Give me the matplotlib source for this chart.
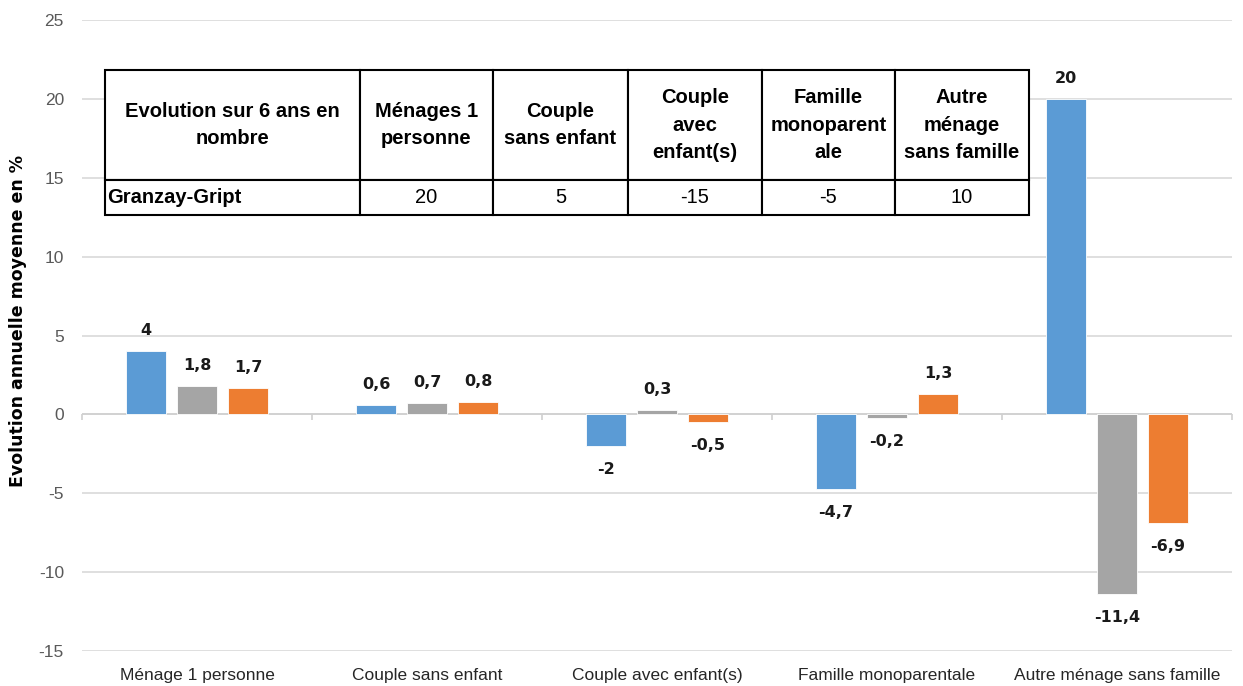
import numpy as np
import matplotlib
matplotlib.use("Agg")
import matplotlib.pyplot as plt

plt.rcParams['font.family'] = ['Liberation Sans', 'DejaVu Sans']

categories = ["Ménage 1 personne", "Couple sans enfant", "Couple avec enfant(s)",
              "Famille monoparentale", "Autre ménage sans famille"]
serie_bleue = [4, 0.6, -2, -4.7, 20]
serie_grise = [1.8, 0.7, 0.3, -0.2, -11.4]
serie_orange = [1.7, 0.8, -0.5, 1.3, -6.9]

table_header = ["Evolution sur 6 ans en\nnombre", "Ménages 1\npersonne", "Couple\nsans enfant",
                "Couple\navec\nenfant(s)", "Famille\nmonoparent\nale", "Autre\nménage\nsans famille"]
table_row = ["Granzay-Gript", "20", "5", "-15", "-5", "10"]

colors = ["#5B9BD5", "#A5A5A5", "#ED7D31"]
y_ticks = [-15, -10, -5, 0, 5, 10, 15, 20, 25]

fig = plt.figure(figsize=(12.43, 6.86), dpi=100)
ax = fig.add_axes([82 / 1243, 1 - 651 / 686, 1150 / 1243, 631 / 686])

x = np.arange(len(categories))
w = 0.174
step = 0.222
for i, (vals, c) in enumerate(zip([serie_bleue, serie_grise, serie_orange], colors)):
    pos = x + (i - 1) * step
    ax.bar(pos, vals, width=w, color=c, edgecolor="white", linewidth=0.6, zorder=3)
    for xp, v in zip(pos, vals):
        lab = f"{v:g}".replace(".", ",")
        off = 1.3 if v >= 0 else -1.5
        ax.text(xp, v + off, lab, ha="center", va="center", fontsize=11.5,
                fontweight="bold", family="DejaVu Sans", color="#1a1a1a", zorder=4)

ax.set_xlim(-0.5, len(categories) - 0.5)
ax.set_ylim(-15, 25)
ax.set_yticks(y_ticks)
ax.set_yticklabels([str(t) for t in y_ticks], fontsize=12.5, color="#595959")
ax.set_xticks(x)
ax.set_xticklabels(categories, fontsize=12.5, color="#262626")
ax.tick_params(axis="both", length=0)
ax.tick_params(axis="x", pad=12)
ax.tick_params(axis="y", pad=13)
ax.grid(axis="y", color="#D9D9D9", linewidth=1.2, zorder=0)
for s in ax.spines.values():
    s.set_visible(False)

# ligne du zéro avec petits traits entre catégories
ax.axhline(0, color="#D0D0D0", linewidth=1.2, zorder=2)
ax.vlines(np.arange(len(categories) + 1) - 0.5, -0.35, 0, color="#D0D0D0", linewidth=1.2,
          zorder=2, clip_on=False)

ax.set_ylabel("Evolution annuelle moyenne en %", fontsize=12.5, fontweight="bold",
              family="DejaVu Sans")
ax.yaxis.set_label_coords(-0.048, 0.523)

# tableau
col_px = [255, 133, 135, 134, 133, 134]
tot = sum(col_px)
tbl = ax.table(cellText=[table_row], colLabels=table_header,
               colWidths=[c / tot for c in col_px],
               bbox=[(105 - 82) / 1150, (651 - 215) / 631, 924 / 1150, 145 / 631],
               cellLoc="center", zorder=5)
tbl.auto_set_font_size(False)
hdr_h = 110 / 145
for (r, c), cell in tbl.get_celld().items():
    cell.set_edgecolor("black")
    cell.set_linewidth(1.5)
    cell.set_facecolor("white")
    cell.set_height(hdr_h if r == 0 else 1 - hdr_h)
    t = cell.get_text()
    t.set_fontsize(14.5)
    t.set_linespacing(1.55)
    t.set_color("black")
    if r == 0:
        t.set_fontweight("bold")
    if r == 1 and c == 0:
        t.set_fontweight("bold")
        cell.PAD = 0.01
        cell._loc = "left"
        t.set_ha("left")

fig.savefig("out.png", dpi=100)
